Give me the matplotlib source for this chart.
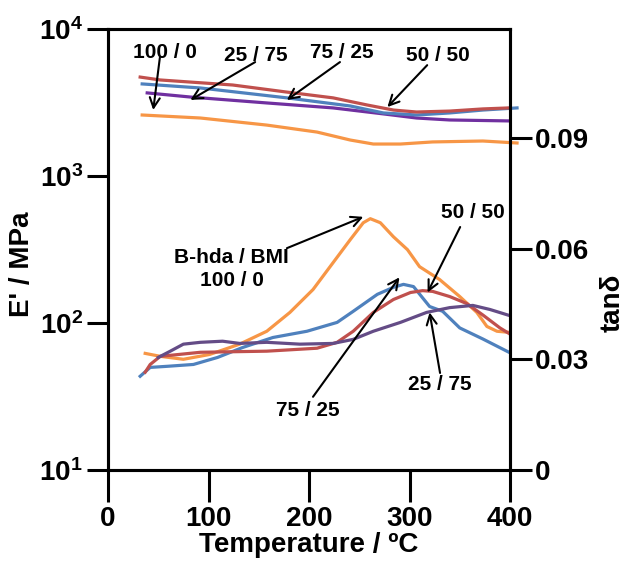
import matplotlib
matplotlib.use("Agg")
import matplotlib.pyplot as plt
import numpy as np

plt.rcParams['font.family'] = ['Liberation Sans', 'DejaVu Sans']
plt.rcParams['font.weight'] = 'bold'
plt.rcParams['mathtext.fontset'] = 'custom'
plt.rcParams['mathtext.rm'] = 'Liberation Sans:bold'
plt.rcParams['mathtext.bf'] = 'Liberation Sans:bold'
plt.rcParams['mathtext.default'] = 'bf'

# ---- Storage modulus E' (MPa) ----
Ered_T = [32, 52, 124, 177, 224, 258, 284, 307, 340, 373, 399]
Ered_V = [4710, 4500, 4160, 3730, 3400, 3040, 2810, 2725, 2765, 2860, 2905]
Eblue_T = [34, 92, 178, 241, 274, 307, 340, 373, 407]
Eblue_V = [4230, 3970, 3400, 2995, 2685, 2600, 2685, 2810, 2905]
Epur_T = [39, 82, 158, 224, 274, 307, 340, 398]
Epur_V = [3675, 3445, 3140, 2905, 2645, 2480, 2405, 2370]
Eora_T = [34, 92, 158, 208, 241, 264, 291, 323, 373, 407]
Eora_V = [2600, 2480, 2220, 1990, 1757, 1650, 1650, 1705, 1730, 1677]

# ---- tan delta ----
Tora_T = [37, 52, 75, 101, 131, 158, 181, 204, 224, 241, 254, 261, 271, 284, 298, 310, 330, 350, 367, 377, 387, 399]
Tora_V = [0.0316, 0.0308, 0.0300, 0.0313, 0.0341, 0.0376, 0.0427, 0.0489, 0.0562, 0.0624, 0.0670, 0.0681,
          0.0670, 0.0632, 0.0597, 0.0551, 0.0516, 0.0470, 0.0427, 0.0389, 0.0376, 0.0373]
Tblue_T = [32, 42, 59, 85, 109, 134, 164, 198, 228, 244, 268, 284, 294, 304, 312, 320, 333, 350, 373, 399]
Tblue_V = [0.0254, 0.0278, 0.0281, 0.0286, 0.0305, 0.0332, 0.0359, 0.0376, 0.0400, 0.0430, 0.0476, 0.0495,
           0.0503, 0.0497, 0.0470, 0.0443, 0.0430, 0.0385, 0.0355, 0.0319]
Tred_T = [37, 42, 52, 92, 158, 208, 228, 244, 264, 284, 301, 313, 323, 340, 357, 373, 390, 399]
Tred_V = [0.0265, 0.0286, 0.0308, 0.0319, 0.0322, 0.0330, 0.0346, 0.0376, 0.0427, 0.0462, 0.0481, 0.0486,
          0.0484, 0.0470, 0.0451, 0.0420, 0.0385, 0.0370]
Tpur_T = [50, 62, 75, 92, 114, 131, 158, 191, 224, 244, 264, 291, 317, 340, 363, 380, 399]
Tpur_V = [0.0305, 0.0322, 0.0341, 0.0346, 0.0349, 0.0343, 0.0346, 0.0341, 0.0343, 0.0354, 0.0376, 0.0400,
          0.0427, 0.0440, 0.0446, 0.0435, 0.0419]

xticks = [0, 100, 200, 300, 400]
yticksE = [10, 100, 1000, 10000]
yticklabelsE = [r'$\mathbf{10^{1}}$', r'$\mathbf{10^{2}}$', r'$\mathbf{10^{3}}$', r'$\mathbf{10^{4}}$']
yticksT = [0, 0.03, 0.06, 0.09]
yticklabelsT = ['0', '0.03', '0.06', '0.09']

RED = '#C0504D'
BLUE = '#4F81BD'
PURPLE = '#7030A0'
PURPLE2 = '#644C86'
ORANGE = '#F79646'

fig = plt.figure(figsize=(6.24, 5.63), dpi=100)
ax = fig.add_axes([108/624, 1-470/563, 402/624, 441/563])
ax2 = ax.twinx()

lw = 2.3
ax.plot(Eora_T, Eora_V, color=ORANGE, lw=lw, clip_on=False)
ax.plot(Epur_T, Epur_V, color=PURPLE, lw=lw, clip_on=False)
ax.plot(Eblue_T, Eblue_V, color=BLUE, lw=lw, clip_on=False)
ax.plot(Ered_T, Ered_V, color=RED, lw=lw, clip_on=False)
ax.set_yscale('log')
ax.set_ylim(10, 10000)
ax.set_xlim(0, 400)

ax2.plot(Tora_T, Tora_V, color=ORANGE, lw=lw)
ax2.plot(Tblue_T, Tblue_V, color=BLUE, lw=lw)
ax2.plot(Tred_T, Tred_V, color=RED, lw=lw)
ax2.plot(Tpur_T, Tpur_V, color=PURPLE2, lw=lw)
ax2.set_ylim(0, 0.1195)

for a in (ax, ax2):
    for s in a.spines.values():
        s.set_linewidth(2.2)

ax.set_xticks(xticks)
ax.set_xticklabels([str(t) for t in xticks])
ax.set_yticks(yticksE)
ax.set_yticklabels(yticklabelsE)
ax.yaxis.set_minor_locator(matplotlib.ticker.NullLocator())
ax.tick_params(axis='x', direction='out', length=23, width=2.2, labelsize=20, pad=3)
ax.tick_params(axis='y', direction='out', length=15, width=2.2, labelsize=20, pad=3)
ax2.set_yticks(yticksT)
ax2.set_yticklabels(yticklabelsT)
ax2.tick_params(axis='y', direction='out', length=16, width=2.2, labelsize=20, pad=2)

ax.set_xlabel('Temperature / ºC', fontsize=20, fontweight='bold', labelpad=0)
ax.set_ylabel("E' / MPa", fontsize=20, fontweight='bold')
ax.yaxis.set_label_coords(-0.182, 0.467)
ax2.set_ylabel('tanδ', fontsize=20, fontweight='bold')
ax2.yaxis.set_label_coords(1.222, 0.379)

afs = 15
aprops = dict(arrowstyle='->', color='black', lw=1.5, shrinkA=0, shrinkB=0, mutation_scale=18)

# top labels
ax.text(0.142, 0.946, '100 / 0', transform=ax.transAxes, ha='center', va='center', fontsize=afs, fontweight='bold')
ax.text(0.368, 0.941, '25 / 75', transform=ax.transAxes, ha='center', va='center', fontsize=afs, fontweight='bold')
ax.text(0.582, 0.946, '75 / 25', transform=ax.transAxes, ha='center', va='center', fontsize=afs, fontweight='bold')
ax.text(0.821, 0.941, '50 / 50', transform=ax.transAxes, ha='center', va='center', fontsize=afs, fontweight='bold')
ax.annotate('', xy=(45, 2812), xycoords='data', xytext=(0.129, 0.935), textcoords='axes fraction', arrowprops=aprops)
ax.annotate('', xy=(82, 3289), xycoords='data', xytext=(0.366, 0.925), textcoords='axes fraction', arrowprops=aprops)
ax.annotate('', xy=(178, 3289), xycoords='data', xytext=(0.577, 0.925), textcoords='axes fraction', arrowprops=aprops)
ax.annotate('', xy=(278, 2944), xycoords='data', xytext=(0.794, 0.918), textcoords='axes fraction', arrowprops=aprops)

# lower labels
ax2.text(0.308, 0.456, 'B-hda / BMI\n100 / 0', transform=ax2.transAxes, ha='center', va='center',
         fontsize=afs, fontweight='bold', linespacing=1.25)
ax2.annotate('', xy=(254, 0.0686), xycoords='data', xytext=(0.445, 0.503), textcoords='axes fraction', arrowprops=aprops)
ax2.text(0.908, 0.583, '50 / 50', transform=ax2.transAxes, ha='center', va='center', fontsize=afs, fontweight='bold')
ax2.annotate('', xy=(318, 0.0481), xycoords='data', xytext=(0.876, 0.551), textcoords='axes fraction', arrowprops=aprops)
ax2.text(0.826, 0.193, '25 / 75', transform=ax2.transAxes, ha='center', va='center', fontsize=afs, fontweight='bold')
ax2.annotate('', xy=(320, 0.0427), xycoords='data', xytext=(0.826, 0.220), textcoords='axes fraction', arrowprops=aprops)
ax2.text(0.498, 0.136, '75 / 25', transform=ax2.transAxes, ha='center', va='center', fontsize=afs, fontweight='bold')
ax2.annotate('', xy=(290, 0.0522), xycoords='data', xytext=(0.510, 0.166), textcoords='axes fraction', arrowprops=aprops)

fig.savefig('out.png', dpi=100)
